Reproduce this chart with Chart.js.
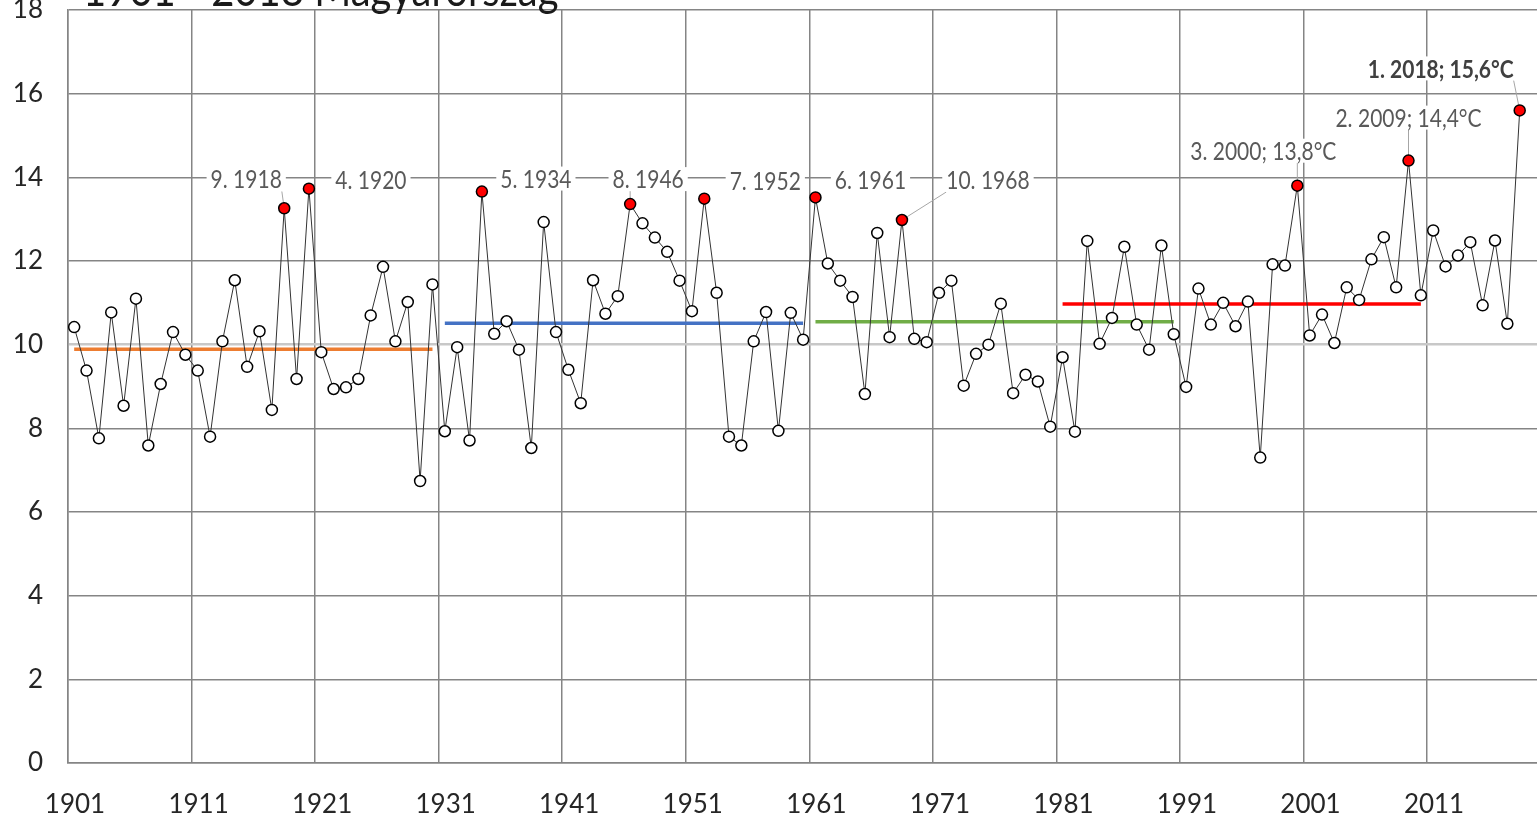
<!DOCTYPE html>
<html>
<head>
<meta charset="utf-8">
<script src="https://cdn.jsdelivr.net/npm/chart.js@4.4.0/dist/chart.umd.min.js"></script>
<style>
  html, body { margin: 0; padding: 0; background: #fff; }
  #wrap { position: relative; width: 1537px; height: 816px; }
</style>
</head>
<body>
<div id="wrap"><canvas id="chart"></canvas></div>
<script>
// yearly mean temperature, 1901 - 2018
const temps = [
  10.42, 9.38, 7.76, 10.77, 8.54, 11.10, 7.59, 9.06, 10.30, 9.76,    // 1901-1910
  9.38, 7.80, 10.08, 11.54, 9.47, 10.32, 8.44, 13.26, 9.18, 13.73,   // 1911-1920
  9.82, 8.94, 8.98, 9.18, 10.70, 11.86, 10.08, 11.02, 6.74, 11.44,   // 1921-1930
  7.93, 9.94, 7.71, 13.66, 10.26, 10.56, 9.88, 7.53, 12.93, 10.30,   // 1931-1940
  9.40, 8.60, 11.54, 10.74, 11.16, 13.36, 12.90, 12.56, 12.22, 11.53, // 1941-1950
  10.80, 13.49, 11.24, 7.80, 7.59, 10.08, 10.78, 7.94, 10.76, 10.12, // 1951-1960
  13.52, 11.94, 11.53, 11.14, 8.82, 12.67, 10.18, 12.98, 10.14, 10.06, // 1961-1970
  11.24, 11.53, 9.02, 9.78, 10.00, 10.98, 8.84, 9.28, 9.12, 8.04,    // 1971-1980
  9.70, 7.92, 12.48, 10.02, 10.64, 12.34, 10.48, 9.88, 12.37, 10.25, // 1981-1990
  8.99, 11.34, 10.48, 11.00, 10.44, 11.03, 7.30, 11.92, 11.89, 13.8, // 1991-2000
  10.22, 10.72, 10.04, 11.37, 11.07, 12.04, 12.57, 11.37, 14.4, 11.18, // 2001-2010
  12.73, 11.87, 12.13, 12.45, 10.94, 12.49, 10.50, 15.6              // 2011-2018
];
const years = temps.map((t, i) => 1901 + i);

// the ten warmest years
const topYears = [2018, 2009, 2000, 1920, 1934, 1961, 1952, 1946, 1918, 1968];
const topLabels = ['1. 2018; 15,6°C', '2. 2009; 14,4°C', '3. 2000; 13,8°C', '4. 1920', '5. 1934',
                   '6. 1961', '7. 1952', '8. 1946', '9. 1918', '10. 1968'];

// 30 year averages
const avgPeriods = [[1901, 1930], [1931, 1960], [1961, 1990], [1981, 2010]];
const avgValues = [9.89, 10.51, 10.55, 10.97];

const xTickYears = [1901, 1911, 1921, 1931, 1941, 1951, 1961, 1971, 1981, 1991, 2001, 2011];
const yTickValues = [0, 2, 4, 6, 8, 10, 12, 14, 16, 18];

const titleText = '1901 - 2018 Magyarország';

const avgColors = ['#ed7d31', '#4472c4', '#70ad47', '#ff0000'];
const gridColor = '#858585';
const FONT = 'Lato, "Open Sans", sans-serif';

// where each label sits, in pixels from its point
const calloutPos = {
  1918: { dx: -38, dy: -29, leader: true },
  1920: { dx: 62, dy: -9, leader: false },
  1934: { dx: 54, dy: -13, leader: false },
  1946: { dx: 18, dy: -25, leader: true },
  1952: { dx: 61, dy: -18, leader: false },
  1961: { dx: 55, dy: -18, leader: false },
  1968: { dx: 86, dy: -40, leader: true },
  2000: { dx: -34, dy: -35, leader: true },
  2009: { dx: 0, dy: -43, leader: true },
  2018: { dx: -79, dy: -42, leader: true }
};

// text a bit taller than wide, like the original picture
function tallText(ctx, text, x, y, stretch) {
  ctx.save()
  ctx.translate(x, y)
  ctx.scale(1, stretch)
  ctx.fillText(text, 0, 0)
  ctx.restore()
}

const calloutPlugin = {
  id: 'callouts',
  beforeDatasetsDraw(chart) {
    const ctx = chart.ctx
    const xs = chart.scales.x, ys = chart.scales.y
    ctx.save()
    topYears.forEach((yr, i) => {
      const pos = calloutPos[yr]
      const px = xs.getPixelForValue(yr)
      const py = ys.getPixelForValue(temps[yr - 1901])
      const cx = px + pos.dx, cy = py + pos.dy
      const bold = i === 0
      ctx.font = (bold ? 'bold ' : '') + '21px ' + FONT
      const w = ctx.measureText(topLabels[i]).width
      const h = 24
      if (pos.leader) {
        const ex = Math.max(cx - w / 2, Math.min(px, cx + w / 2))
        const ey = Math.max(cy - h / 2, Math.min(py, cy + h / 2))
        ctx.strokeStyle = '#a6a6a6'
        ctx.lineWidth = 1
        ctx.beginPath()
        ctx.moveTo(ex, ey)
        ctx.lineTo(px, py)
        ctx.stroke()
      }
      ctx.fillStyle = '#fff'
      ctx.fillRect(cx - w / 2 - 4, cy - h / 2, w + 8, h)
      ctx.fillStyle = bold ? '#404040' : '#595959'
      ctx.textAlign = 'center'
      ctx.textBaseline = 'middle'
      tallText(ctx, topLabels[i], cx, cy + 1, 1.2)
    })
    ctx.restore()
  }
};

const titlePlugin = {
  id: 'cutTitle',
  afterDraw(chart) {
    const ctx = chart.ctx
    ctx.save()
    ctx.font = '40px ' + FONT
    ctx.fillStyle = '#1a1a1a'
    ctx.textAlign = 'left'
    ctx.textBaseline = 'alphabetic'
    tallText(ctx, titleText, 83, 6, 1.15)
    ctx.restore()
  }
};

const datasets = avgPeriods.map((p, i) => ({
  type: 'line',
  data: [{ x: p[0], y: avgValues[i] }, { x: p[1], y: avgValues[i] }],
  borderColor: avgColors[i],
  borderWidth: 3.5,
  pointRadius: 0,
  order: 2
}));

datasets.push({
  type: 'line',
  data: years.map((y, i) => ({ x: y, y: temps[i] })),
  borderColor: '#333333',
  borderWidth: 1,
  pointRadius: 5.5,
  pointBorderWidth: 1.5,
  pointBorderColor: '#000',
  pointBackgroundColor: ctx => topYears.includes(years[ctx.dataIndex]) ? '#ff0000' : '#ffffff',
  tension: 0,
  order: 1
});

new Chart(document.getElementById('chart'), {
  type: 'line',
  data: { datasets: datasets },
  plugins: [calloutPlugin, titlePlugin],
  options: {
    responsive: true,
    maintainAspectRatio: false,
    animation: false,
    layout: { autoPadding: false, padding: { top: 10, right: 0, left: 0, bottom: 0 } },
    plugins: { legend: { display: false }, tooltip: { enabled: false } },
    scales: {
      x: {
        type: 'linear',
        min: 1900.5,
        max: 2019.4,
        afterBuildTicks: scale => { scale.ticks = xTickYears.map(y => ({ value: y - 0.5 })) },
        afterFit: scale => { scale.height = 53; scale.paddingLeft = 0; scale.paddingRight = 0 },
        grid: { color: gridColor, lineWidth: 1.5, drawTicks: false },
        border: { color: gridColor, width: 1.5 },
        ticks: {
          autoSkip: false,
          maxRotation: 0,
          padding: 26,
          labelOffset: 7,
          color: '#262626',
          font: { family: FONT, size: 26 },
          callback: v => String(Math.round(v + 0.5))
        }
      },
      y: {
        min: 0,
        max: 18,
        afterBuildTicks: scale => { scale.ticks = yTickValues.map(v => ({ value: v })) },
        afterFit: scale => { scale.width = 68; scale.paddingTop = 0; scale.paddingBottom = 0 },
        grid: {
          color: c => c.tick && c.tick.value === 10 ? '#c8c8c8' : gridColor,
          lineWidth: c => c.tick && c.tick.value === 10 ? 2.5 : 1.5,
          drawTicks: false
        },
        border: { color: gridColor, width: 1.5 },
        ticks: {
          padding: 25,
          color: '#262626',
          font: { family: FONT, size: 26 }
        }
      }
    }
  }
});
</script>
</body>
</html>
